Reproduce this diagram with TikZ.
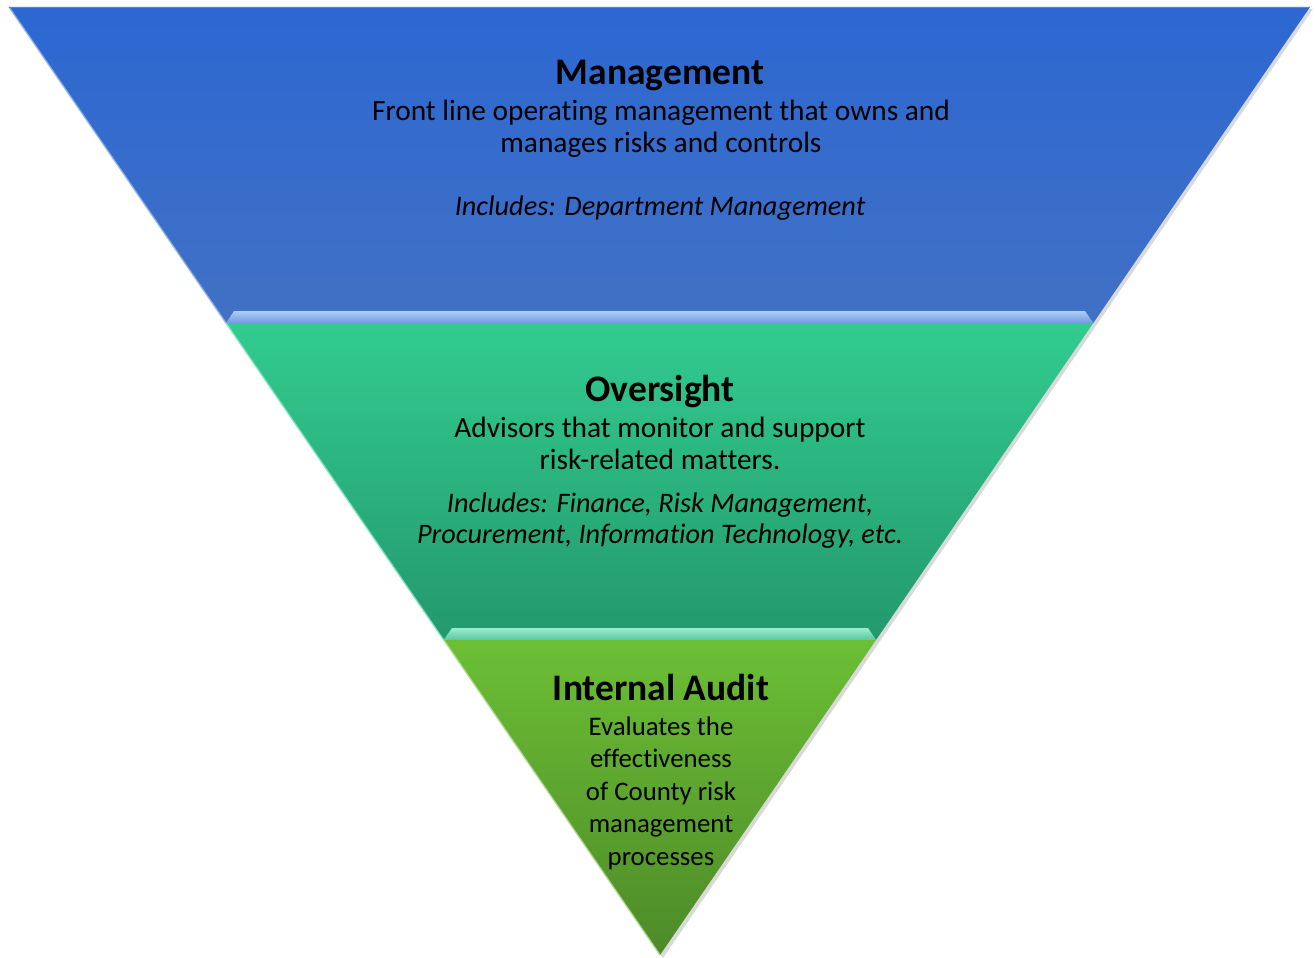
\documentclass[tikz,border=0pt]{standalone}
\usepackage{fontspec}
\setmainfont{Carlito}[Ligatures=NoCommon]
\definecolor{blueTop}{HTML}{2C67D2}
\definecolor{blueBot}{HTML}{4171C4}
\definecolor{blueBand}{HTML}{8CB6F2}
\definecolor{tealTop}{HTML}{32CC8F}
\definecolor{tealBot}{HTML}{23986E}
\definecolor{tealBand}{HTML}{80E8C2}
\definecolor{greenTop}{HTML}{6CBF35}
\definecolor{greenBot}{HTML}{4D8A28}
\tikzset{
  shadowshape/.style={fill=black,opacity=0.15},
  titletext/.style={inner sep=0pt,align=center,font=\fontsize{37.5}{42}\selectfont\bfseries},
  bodytext/.style={inner sep=0pt,align=center,font=\fontsize{29.4}{32.5}\selectfont},
  iabodytext/.style={inner sep=0pt,align=center,font=\fontsize{26.8}{32.5}\selectfont},
  ittext/.style={inner sep=0pt,align=center,font=\fontsize{28.3}{31}\selectfont\itshape},
  edgelight/.style={line width=1.5pt,opacity=0.8}
}
\begin{document}
\begin{tikzpicture}[x=1pt,y=-1pt]
\useasboundingbox (0,0) rectangle (1315,958);
% shadow
\fill[shadowshape] (12,9) -- (1313,9) -- (663,958) -- cycle;
% management (blue)
\shade[top color=blueTop,bottom color=blueBot] (9,7) -- (1310,7) -- (1093.3,323) -- (226,323) -- cycle;
\shade[top color=blueBand!70!white,bottom color=blueBand!60!blueBot] (234,311) -- (1085,311) -- (1093.3,323) -- (226,323) -- cycle;
\draw[edgelight,color=blueBand] (9,7) -- (226,323);
\draw[line width=1pt,color=blueTop!80!white] (9,7.5) -- (1310,7.5);
% oversight (teal)
\shade[top color=tealTop,bottom color=tealBot] (226,323) -- (1093.3,323) -- (876,640) -- (443.7,640) -- cycle;
\shade[top color=tealBand!80!white,bottom color=tealBand!60!tealBot] (452,628) -- (868,628) -- (876,640) -- (443.7,640) -- cycle;
\draw[edgelight,color=tealBand] (226,323) -- (443.7,640);
% internal audit (green)
\shade[top color=greenTop,bottom color=greenBot] (443.7,640) -- (876,640) -- (660,955) -- cycle;
\draw[edgelight,color=greenTop!50!white] (443.7,640) -- (660,955);
% texts
\node[titletext] (mgmtTitle) at (660,76) {Management};
\node[bodytext] (mgmtBody) at (661,129) {Front line operating management that owns and\\manages risks and controls};
\node[ittext] (mgmtInc) at (660,208) {Includes: Department Management};
\node[titletext] (ovTitle) at (660,392) {Oversight};
\node[bodytext] (ovBody) at (660,443.5) {Advisors that monitor and support\\risk-related matters.};
\node[ittext] (ovInc) at (660,521) {Includes: Finance, Risk Management,\\Procurement, Information Technology, etc.};
\node[titletext] (iaTitle) at (661,687) {Internal Audit};
\node[iabodytext] (iaBody) at (661,793) {Evaluates the\\effectiveness\\of County risk\\management\\processes};
\end{tikzpicture}
\end{document}
